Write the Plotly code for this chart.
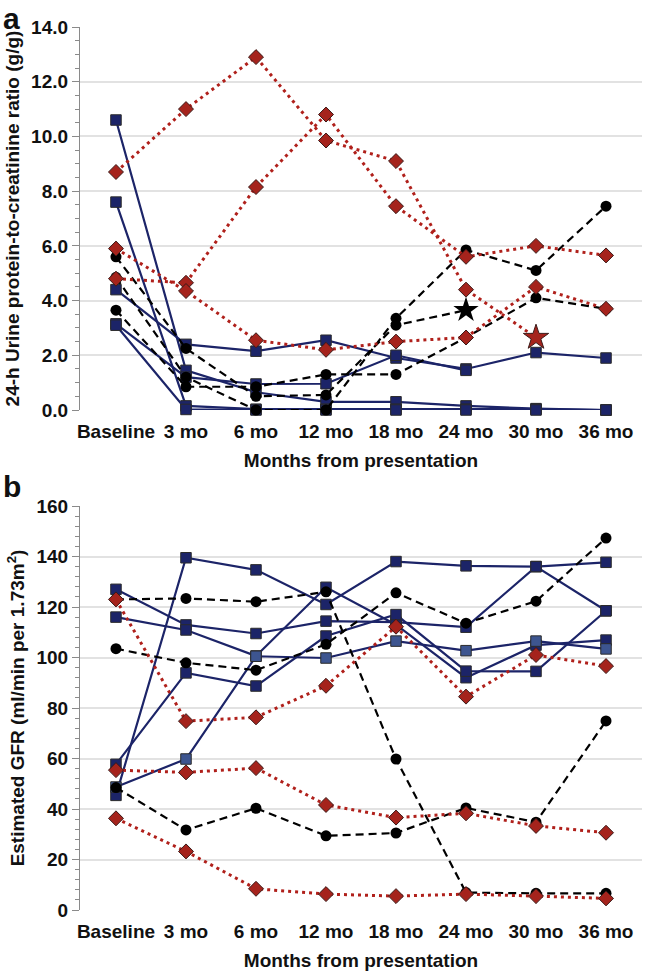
import plotly.graph_objects as go

# ---------------- data ----------------
months = ["Baseline", "3 mo", "6 mo", "12 mo", "18 mo", "24 mo", "30 mo", "36 mo"]

# Panel a: 24-h urine protein-to-creatinine ratio (g/g)
upcr_blue_1 = [10.6, 1.45, 0.65, 0.30, 0.30, 0.15, 0.05, 0.0]
upcr_blue_2 = [7.6, 0.15, 0.03, 0.03, 0.03, 0.03, 0.03, 0.0]
upcr_blue_3 = [4.4, 2.4, 2.15, 2.55, 1.9, 1.5, 2.1, 1.9]
upcr_blue_4 = [3.15, 1.2, 0.95, 0.96, 2.0, 1.45, None, None]
upcr_blue_5 = [3.1, 0.02, 0.0, 0.0, 0.0, 0.0, 0.0, 0.0]

upcr_red_1 = [8.7, 11.0, 12.9, 9.85, 9.1, 4.4, 2.65, None]   # star at 30 mo
upcr_red_2 = [4.8, 4.65, 8.15, 10.8, 7.45, 5.6, 6.0, 5.65]
upcr_red_3 = [5.9, 4.35, 2.55, 2.2, 2.5, 2.65, 4.5, 3.7]

upcr_black_1 = [5.6, 2.25, 0.5, 0.55, 3.1, 3.65, None, None]  # star at 24 mo
upcr_black_2 = [4.85, 1.2, 0.0, 0.0, 3.35, 5.85, 5.1, 7.45]
upcr_black_3 = [3.65, 0.85, 0.85, 1.3, 1.3, 2.65, 4.1, 3.7]

# Panel b: estimated GFR (ml/min per 1.73 m2)
egfr_blue_1 = [127, 112.9, 109.5, 114.4, 114, 112, 136, 118.5]
egfr_blue_2 = [116, 110.9, 100.6, 127.8, 113, 92, 104.9, 106.9]
egfr_blue_3 = [45.4, 139.5, 134.7, 121, 138, 136.3, 136, 137.7]
egfr_blue_4 = [57.7, 93.9, 88.7, 108.5, 117, 94.6, 94.5, 118.5]
egfr_blue_5 = [48.7, 59.8, 100.5, 99.8, 106.5, 102.7, 106.5, 103.4]  # lighter square

egfr_red_1 = [123, 74.8, 76.3, 88.8, 112.2, 84.5, 101, 96.6]
egfr_red_2 = [55.4, 54.5, 56.2, 41.6, 36.6, 38.3, 33.3, 30.6]
egfr_red_3 = [36.3, 23.2, 8.4, 6.3, 5.5, 6.3, 5.5, 4.6]

egfr_black_1 = [123, 123.4, 122.1, 126, 59.8, 6.9, 6.6, 6.6]
egfr_black_2 = [103.5, 97.9, 95, 105.2, 125.6, 113.6, 122.3, 147.3]
egfr_black_3 = [48.5, 31.7, 40.3, 29.4, 30.5, 40.4, 34.8, 74.9]

# ---------------- styles ----------------
NAVY = "#1c2468"
NAVY_LIGHT = "#3d5590"
RED = "#b0201b"
RED_FILL = "#a5231c"
BLACK = "#000000"
FONT = "Liberation Sans, Arial, sans-serif"

fig = go.Figure()


def blue(y, xa, ya, fill=NAVY):
    fig.add_trace(go.Scatter(
        x=months, y=y, xaxis=xa, yaxis=ya, mode="lines+markers",
        line=dict(color=NAVY, width=2.2),
        marker=dict(symbol="square", size=10.5, color=fill, opacity=1,
                    line=dict(color="#2b2b2b", width=1)),
        cliponaxis=False, showlegend=False, connectgaps=False))


def black(y, xa, ya, star_idx=None):
    sym = ["circle"] * len(y)
    size = [11] * len(y)
    if star_idx is not None:
        sym[star_idx] = "star"
        size[star_idx] = 19
    fig.add_trace(go.Scatter(
        x=months, y=y, xaxis=xa, yaxis=ya, mode="lines+markers",
        line=dict(color=BLACK, width=2.2, dash="8px,5px"),
        marker=dict(symbol=sym, size=size, color=BLACK, opacity=1,
                    line=dict(color=BLACK, width=0)),
        cliponaxis=False, showlegend=False))


def red(y, xa, ya, star_idx=None):
    sym = ["diamond"] * len(y)
    size = [11.5] * len(y)
    if star_idx is not None:
        sym[star_idx] = "star"
        size[star_idx] = 19
    fig.add_trace(go.Scatter(
        x=months, y=y, xaxis=xa, yaxis=ya, mode="lines+markers",
        line=dict(color=RED, width=3, dash="3px,4px"),
        marker=dict(symbol=sym, size=size, color=RED_FILL, opacity=1,
                    line=dict(color="#3a1a18", width=1)),
        cliponaxis=False, showlegend=False))


# panel a
for s in [upcr_blue_1, upcr_blue_2, upcr_blue_3, upcr_blue_4, upcr_blue_5]:
    blue(s, "x", "y")
black(upcr_black_1, "x", "y", star_idx=5)
black(upcr_black_2, "x", "y")
black(upcr_black_3, "x", "y")
red(upcr_red_1, "x", "y", star_idx=6)
red(upcr_red_2, "x", "y")
red(upcr_red_3, "x", "y")

# panel b
for s in [egfr_blue_1, egfr_blue_2, egfr_blue_3, egfr_blue_4]:
    blue(s, "x2", "y2")
blue(egfr_blue_5, "x2", "y2", fill=NAVY_LIGHT)
black(egfr_black_1, "x2", "y2")
black(egfr_black_2, "x2", "y2")
black(egfr_black_3, "x2", "y2")
red(egfr_red_1, "x2", "y2")
red(egfr_red_2, "x2", "y2")
red(egfr_red_3, "x2", "y2")

tickfont = dict(family=FONT, size=19, color="#111", weight="bold")
titlefont = dict(family=FONT, size=19, color="#111", weight="bold")
XDOM = [80 / 647, 642 / 647]


def xaxis(anchor):
    return dict(domain=XDOM, anchor=anchor, type="category",
                range=[-0.514, 7.514], showgrid=False, showline=False,
                zeroline=False, ticks="", tickfont=tickfont,
                ticklabelstandoff=8, automargin=False,
                title=dict(text="Months from presentation", font=titlefont,
                           standoff=12))


def yaxis(anchor, dom, rng, dtick, minor, fmt, title):
    return dict(domain=dom, anchor=anchor, range=rng, dtick=dtick,
                tickformat=fmt, showline=True, linecolor="#8a8a8a",
                linewidth=1.2, ticks="outside", ticklen=7,
                tickcolor="#8a8a8a", tickwidth=1.2, showgrid=True,
                gridcolor="#e2e2e2", gridwidth=1.5, zeroline=False,
                automargin=False,
                minor=dict(dtick=minor, ticks="outside", ticklen=4,
                           tickcolor="#8a8a8a", showgrid=False),
                tickfont=tickfont,
                title=dict(text=title, font=titlefont, standoff=6))


fig.update_layout(
    width=647, height=975,
    margin=dict(l=0, r=0, t=0, b=0, autoexpand=False),
    paper_bgcolor="white", plot_bgcolor="white",
    xaxis=xaxis("y"),
    yaxis=yaxis("x", [1 - 410 / 975, 1 - 27 / 975], [0, 14], 2, 0.5, ".1f",
                "24-h Urine protein-to-creatinine ratio (g/g)"),
    xaxis2=xaxis("y2"),
    yaxis2=yaxis("x2", [1 - 910 / 975, 1 - 506 / 975], [0, 160], 20, 4, "d",
                 "Estimated GFR (ml/min per 1.73m<sup>2</sup>)"),
    annotations=[
        dict(text="a", x=0.0, y=1.0, xref="paper", yref="paper",
             xanchor="left", yanchor="top", xshift=1, yshift=0,
             showarrow=False,
             font=dict(family=FONT, size=30, color="#111", weight="bold")),
        dict(text="b", x=0.0, y=1 - 474 / 975, xref="paper", yref="paper",
             xanchor="left", yanchor="top", xshift=1, yshift=6,
             showarrow=False,
             font=dict(family=FONT, size=30, color="#111", weight="bold")),
    ],
)

fig.write_html("out.html",
               config={"displayModeBar": False},
               post_script="document.body.style.margin='0';"
                           "document.body.style.padding='0';")
